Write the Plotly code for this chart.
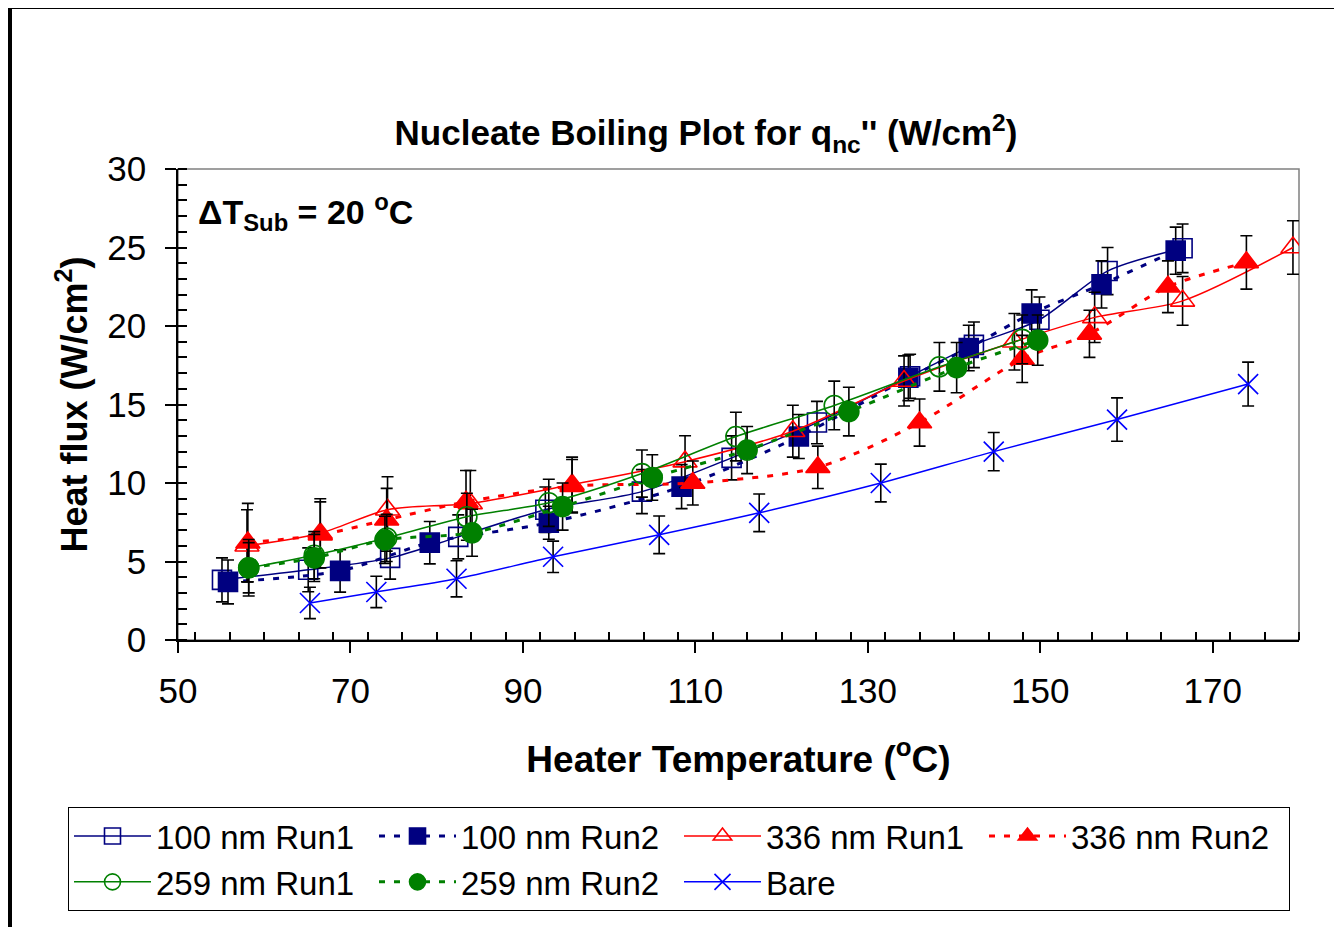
import plotly.graph_objects as go

FONT = "Liberation Sans, Arial, Helvetica, sans-serif"

# ---- data ----
x_100_r1 = [55.1, 65.1, 74.6, 82.5, 92.6, 103.8, 114.2, 124.1, 134.9, 142.3, 149.9, 157.8, 166.5]
y_100_r1 = [3.83, 4.47, 5.23, 6.57, 8.3, 9.45, 11.6, 13.85, 16.8, 18.8, 20.4, 23.5, 24.95]
e_100_r1 = [1.4, 1.4, 1.35, 1.4, 1.45, 1.4, 1.4, 1.35, 1.4, 1.45, 1.45, 1.5, 1.55]

x_100_r2 = [55.8, 68.8, 79.2, 93.0, 108.4, 122.0, 134.7, 141.7, 149.0, 157.1, 165.7]
y_100_r2 = [3.7, 4.4, 6.2, 7.47, 9.77, 12.96, 16.7, 18.6, 20.8, 22.65, 24.8]
e_100_r2 = [1.4, 1.35, 1.35, 1.05, 1.4, 1.4, 1.45, 1.45, 1.5, 1.5, 1.5]

x_336_r1 = [58.0, 66.5, 74.3, 83.9, 95.7, 108.8, 121.3, 134.2, 147.0, 156.3, 166.5, 179.3]
y_336_r1 = [6.0, 6.8, 8.3, 8.7, 9.9, 11.36, 13.3, 16.5, 19.0, 20.55, 21.6, 25.0]
e_336_r1 = [2.3, 2.2, 2.1, 2.1, 1.75, 1.65, 1.65, 1.6, 1.8, 1.6, 1.55, 1.7]

x_336_r2 = [58.1, 66.5, 74.2, 83.4, 95.7, 109.7, 124.2, 136.0, 147.9, 155.7, 164.8, 173.9]
y_336_r2 = [6.2, 6.7, 7.66, 8.8, 9.8, 10.0, 11.0, 13.85, 17.9, 19.5, 22.5, 24.05]
e_336_r2 = [2.5, 2.1, 2.0, 2.0, 1.7, 1.4, 1.35, 1.5, 1.5, 1.5, 1.65, 1.7]

x_259_r1 = [58.2, 65.8, 74.2, 83.5, 93.0, 103.8, 114.7, 126.1, 138.3, 147.9]
y_259_r1 = [4.6, 5.4, 6.5, 7.85, 8.74, 10.6, 12.96, 14.94, 17.4, 19.15]
e_259_r1 = [1.6, 1.5, 1.5, 1.5, 1.5, 1.5, 1.55, 1.55, 1.55, 1.55]

x_259_r2 = [58.2, 65.8, 74.0, 84.1, 94.6, 105.0, 116.0, 127.8, 140.3, 149.7]
y_259_r2 = [4.6, 5.23, 6.38, 6.83, 8.5, 10.35, 12.1, 14.55, 17.35, 19.1]
e_259_r2 = [1.8, 1.5, 1.5, 1.5, 1.5, 1.45, 1.5, 1.55, 1.6, 1.6]

x_bare = [65.3, 73.0, 82.3, 93.5, 105.8, 117.4, 131.5, 144.6, 158.9, 174.1]
y_bare = [2.36, 3.06, 3.9, 5.3, 6.7, 8.1, 10.0, 12.0, 14.04, 16.3]
e_bare = [1.0, 1.0, 1.15, 1.0, 1.2, 1.2, 1.2, 1.22, 1.38, 1.4]

series = [
    ("100 nm Run1", x_100_r1, y_100_r1, e_100_r1, "#000080", "solid", 1.5, "square-open", 19),
    ("100 nm Run2", x_100_r2, y_100_r2, e_100_r2, "#000080", "6px,9px", 3, "square", 19),
    ("336 nm Run1", x_336_r1, y_336_r1, e_336_r1, "#FF0000", "solid", 1.5, "triangle-up-open", 21),
    ("336 nm Run2", x_336_r2, y_336_r2, e_336_r2, "#FF0000", "6px,9px", 3, "triangle-up", 21),
    ("259 nm Run1", x_259_r1, y_259_r1, e_259_r1, "#008000", "solid", 1.5, "circle-open", 20),
    ("259 nm Run2", x_259_r2, y_259_r2, e_259_r2, "#008000", "6px,9px", 3, "circle", 20),
    ("Bare", x_bare, y_bare, e_bare, "#0000FF", "solid", 1.5, "x-thin-open", 20),
]

fig = go.Figure()
for name, xs, ys, es, col, dash, lw, sym, ms in series:
    fig.add_trace(go.Scatter(
        x=xs, y=ys, name=name, mode="lines+markers",
        line=dict(color=col, width=lw, dash=dash, shape="spline", smoothing=0.8),
        marker=dict(symbol=sym, size=ms, color=col, line=dict(color=col, width=1.6)),
        error_y=dict(type="data", array=es, visible=True, color="black", thickness=1.6, width=6),
    ))

# page has an 8px body margin; target plot area in screenshot pixels: x 178..1299, y 169..640
OFF = 8
X0, X1, Y0, Y1 = 178, 1299, 169, 640
PW, PH = X1 - X0, Y1 - Y0
W, H = 1342, 927


def px(xp):
    return (xp - X0) / PW


def py(yp):
    return (Y1 - yp) / PH


axis_common = dict(showgrid=False, zeroline=False, showline=True, linecolor="black", linewidth=1.5,
                   ticks="outside", ticklen=11, tickwidth=1.5, tickcolor="black",
                   tickfont=dict(family=FONT, size=35, color="black"))

fig.update_layout(
    width=W, height=H,
    margin=dict(l=X0 - OFF, r=W - (X1 - OFF), t=Y0 - OFF, b=H - (Y1 - OFF)),
    paper_bgcolor="white", plot_bgcolor="white",
    font=dict(family=FONT, color="black"),
    title=dict(text="<b>Nucleate Boiling Plot for q<sub>nc</sub>'' (W/cm<sup>2</sup>)</b>",
               x=px(706), xanchor="center", xref="paper", y=1 - (133 - OFF) / H, yanchor="middle",
               font=dict(family=FONT, size=35, color="black")),
    xaxis=dict(range=[50, 180], dtick=20, tick0=50,
               minor=dict(dtick=4, ticks="inside", ticklen=8, tickwidth=1.5, tickcolor="black"),
               title=dict(text="<b>Heater Temperature (<sup>o</sup>C)</b>",
                          font=dict(family=FONT, size=37, color="black"), standoff=37),
               ticklabelstandoff=8,
               **axis_common),
    yaxis=dict(range=[0, 30], dtick=5,
               minor=dict(dtick=1, ticks="inside", ticklen=9, tickwidth=1.5, tickcolor="black"),
               title=dict(text="<b>Heat flux (W/cm<sup>2</sup>)</b>",
                          font=dict(family=FONT, size=36, color="black"), standoff=9),
               ticklabelstandoff=12,
               **axis_common),
    xaxis2=dict(overlaying="x", matches="x", anchor="y", range=[50, 180], dtick=20, tick0=50,
                ticks="inside", ticklen=11, tickwidth=1.5, tickcolor="black",
                showticklabels=False, showgrid=False, zeroline=False, showline=False),
    yaxis2=dict(overlaying="y", matches="y", anchor="x", range=[0, 30], dtick=5,
                ticks="inside", ticklen=11, tickwidth=1.5, tickcolor="black",
                showticklabels=False, showgrid=False, zeroline=False, showline=False),
    legend=dict(orientation="h", x=px(68), xanchor="left", y=py(807), yanchor="top",
                bordercolor="black", borderwidth=1, bgcolor="white",
                itemwidth=77, entrywidth=213, entrywidthmode="pixels", itemsizing="trace",
                font=dict(family=FONT, size=33, color="black"), tracegroupgap=0),
    showlegend=True,
)

fig.add_annotation(text="<b>ΔT<sub>Sub</sub> = 20 <sup>o</sup>C</b>", xref="paper", yref="paper",
                   x=px(196), y=py(212), xanchor="left", yanchor="middle", showarrow=False,
                   font=dict(family=FONT, size=34, color="black"))

# plot-area frame (gray) and outer chart border
fig.add_shape(type="rect", xref="paper", yref="paper", x0=0, x1=1, y0=0, y1=1,
              line=dict(color="#808080", width=1.5), layer="below")
fig.add_shape(type="rect", xref="paper", yref="paper", x0=px(10), x1=px(1360), y0=py(7), y1=py(960),
              line=dict(color="black", width=4), layer="below")

fig.write_html("out.html")
